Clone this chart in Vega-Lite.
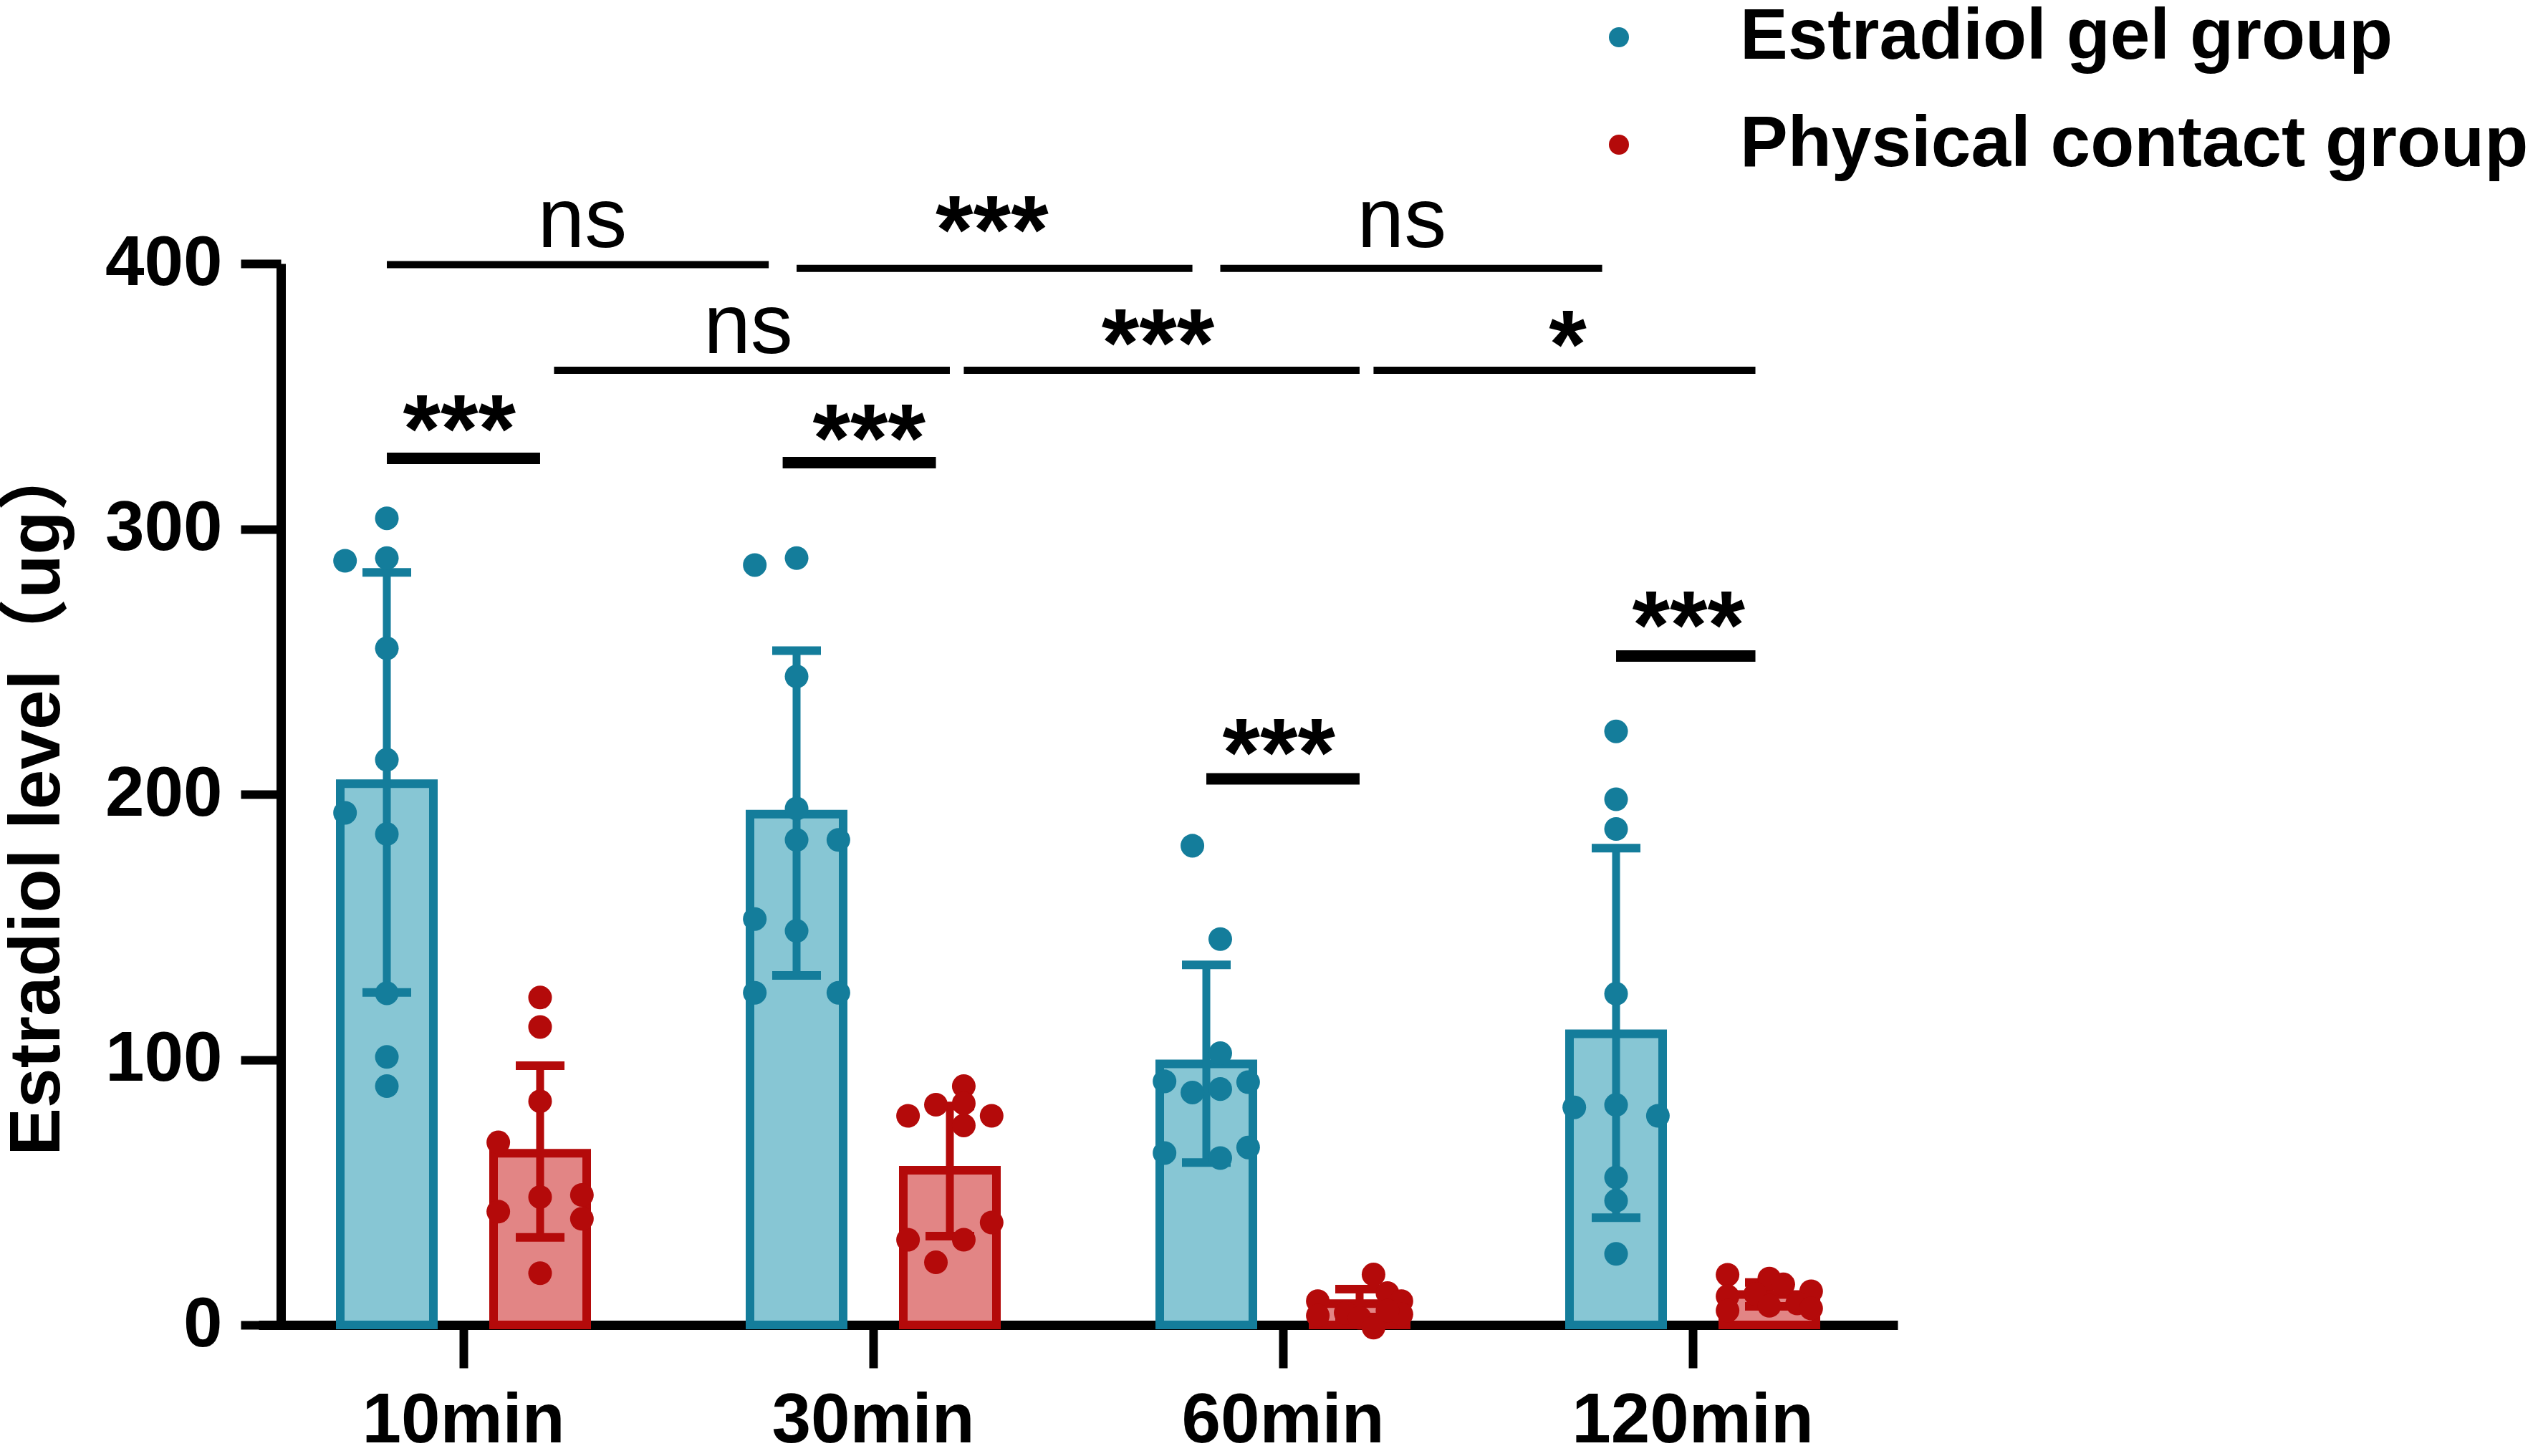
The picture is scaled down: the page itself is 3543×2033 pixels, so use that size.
{
  "$schema": "https://vega.github.io/schema/vega-lite/v6.json",
  "autosize": {"type": "none"},
  "padding": {"left": 361, "top": 368, "right": 894, "bottom": 183},
  "width": 2288,
  "height": 1482,
  "background": "white",
  "config": {"view": {"stroke": null}, "font": "Liberation Sans"},
  "datasets": {
    "bars": [
      {"time": "10min", "group": "Estradiol gel group", "mean": 204, "lo": 125.3, "hi": 283.6},
      {"time": "30min", "group": "Estradiol gel group", "mean": 192.5, "lo": 131.7, "hi": 254.1},
      {"time": "60min", "group": "Estradiol gel group", "mean": 98.4, "lo": 61.2, "hi": 135.7},
      {"time": "120min", "group": "Estradiol gel group", "mean": 109.7, "lo": 40.4, "hi": 179.7},
      {"time": "10min", "group": "Physical contact group", "mean": 64.7, "lo": 33, "hi": 97.7},
      {"time": "30min", "group": "Physical contact group", "mean": 58.3, "lo": 33.5, "hi": 82.5},
      {"time": "60min", "group": "Physical contact group", "mean": 8, "lo": 3, "hi": 13.5},
      {"time": "120min", "group": "Physical contact group", "mean": 11.5, "lo": 7, "hi": 16}
    ],
    "points": [
      {"time": "10min", "group": "Estradiol gel group", "value": 304, "lane": 0},
      {"time": "10min", "group": "Estradiol gel group", "value": 288, "lane": -3},
      {"time": "10min", "group": "Estradiol gel group", "value": 289, "lane": 0},
      {"time": "10min", "group": "Estradiol gel group", "value": 255, "lane": 0},
      {"time": "10min", "group": "Estradiol gel group", "value": 213, "lane": 0},
      {"time": "10min", "group": "Estradiol gel group", "value": 193, "lane": -3},
      {"time": "10min", "group": "Estradiol gel group", "value": 185, "lane": 0},
      {"time": "10min", "group": "Estradiol gel group", "value": 125, "lane": 0},
      {"time": "10min", "group": "Estradiol gel group", "value": 101, "lane": 0},
      {"time": "10min", "group": "Estradiol gel group", "value": 90, "lane": 0},
      {"time": "10min", "group": "Physical contact group", "value": 123.4, "lane": 0},
      {"time": "10min", "group": "Physical contact group", "value": 112.3, "lane": 0},
      {"time": "10min", "group": "Physical contact group", "value": 84.3, "lane": 0},
      {"time": "10min", "group": "Physical contact group", "value": 68.8, "lane": -3},
      {"time": "10min", "group": "Physical contact group", "value": 48.2, "lane": 0},
      {"time": "10min", "group": "Physical contact group", "value": 49, "lane": 3},
      {"time": "10min", "group": "Physical contact group", "value": 42.7, "lane": -3},
      {"time": "10min", "group": "Physical contact group", "value": 40, "lane": 3},
      {"time": "10min", "group": "Physical contact group", "value": 19.5, "lane": 0},
      {"time": "30min", "group": "Estradiol gel group", "value": 286.4, "lane": -3},
      {"time": "30min", "group": "Estradiol gel group", "value": 289, "lane": 0},
      {"time": "30min", "group": "Estradiol gel group", "value": 244.4, "lane": 0},
      {"time": "30min", "group": "Estradiol gel group", "value": 194.6, "lane": 0},
      {"time": "30min", "group": "Estradiol gel group", "value": 182.8, "lane": 0},
      {"time": "30min", "group": "Estradiol gel group", "value": 182.8, "lane": 3},
      {"time": "30min", "group": "Estradiol gel group", "value": 153, "lane": -3},
      {"time": "30min", "group": "Estradiol gel group", "value": 148.5, "lane": 0},
      {"time": "30min", "group": "Estradiol gel group", "value": 125.2, "lane": -3},
      {"time": "30min", "group": "Estradiol gel group", "value": 125.2, "lane": 3},
      {"time": "30min", "group": "Physical contact group", "value": 90, "lane": 1},
      {"time": "30min", "group": "Physical contact group", "value": 83, "lane": -1},
      {"time": "30min", "group": "Physical contact group", "value": 83.5, "lane": 1},
      {"time": "30min", "group": "Physical contact group", "value": 78.8, "lane": -3},
      {"time": "30min", "group": "Physical contact group", "value": 78.8, "lane": 3},
      {"time": "30min", "group": "Physical contact group", "value": 75.2, "lane": 1},
      {"time": "30min", "group": "Physical contact group", "value": 38.6, "lane": 3},
      {"time": "30min", "group": "Physical contact group", "value": 32.1, "lane": -3},
      {"time": "30min", "group": "Physical contact group", "value": 32.1, "lane": 1},
      {"time": "30min", "group": "Physical contact group", "value": 23.6, "lane": -1},
      {"time": "60min", "group": "Estradiol gel group", "value": 180.6, "lane": -1},
      {"time": "60min", "group": "Estradiol gel group", "value": 145.4, "lane": 1},
      {"time": "60min", "group": "Estradiol gel group", "value": 102.4, "lane": 1},
      {"time": "60min", "group": "Estradiol gel group", "value": 91.8, "lane": -3},
      {"time": "60min", "group": "Estradiol gel group", "value": 87.6, "lane": -1},
      {"time": "60min", "group": "Estradiol gel group", "value": 88.9, "lane": 1},
      {"time": "60min", "group": "Estradiol gel group", "value": 91.5, "lane": 3},
      {"time": "60min", "group": "Estradiol gel group", "value": 64.8, "lane": -3},
      {"time": "60min", "group": "Estradiol gel group", "value": 62.9, "lane": 1},
      {"time": "60min", "group": "Estradiol gel group", "value": 66.9, "lane": 3},
      {"time": "60min", "group": "Physical contact group", "value": 19, "lane": 1},
      {"time": "60min", "group": "Physical contact group", "value": 12, "lane": 2},
      {"time": "60min", "group": "Physical contact group", "value": 9, "lane": -3},
      {"time": "60min", "group": "Physical contact group", "value": 3.5, "lane": -3},
      {"time": "60min", "group": "Physical contact group", "value": 9, "lane": 3},
      {"time": "60min", "group": "Physical contact group", "value": 4, "lane": 3},
      {"time": "60min", "group": "Physical contact group", "value": 4.6, "lane": -1},
      {"time": "60min", "group": "Physical contact group", "value": 2.7, "lane": 0},
      {"time": "60min", "group": "Physical contact group", "value": -1, "lane": 1},
      {"time": "60min", "group": "Physical contact group", "value": 5.4, "lane": 2},
      {"time": "120min", "group": "Estradiol gel group", "value": 223.7, "lane": 0},
      {"time": "120min", "group": "Estradiol gel group", "value": 198.1, "lane": 0},
      {"time": "120min", "group": "Estradiol gel group", "value": 186.9, "lane": 0},
      {"time": "120min", "group": "Estradiol gel group", "value": 124.8, "lane": 0},
      {"time": "120min", "group": "Estradiol gel group", "value": 82, "lane": -3},
      {"time": "120min", "group": "Estradiol gel group", "value": 82.9, "lane": 0},
      {"time": "120min", "group": "Estradiol gel group", "value": 78.8, "lane": 3},
      {"time": "120min", "group": "Estradiol gel group", "value": 55.6, "lane": 0},
      {"time": "120min", "group": "Estradiol gel group", "value": 46.8, "lane": 0},
      {"time": "120min", "group": "Estradiol gel group", "value": 26.8, "lane": 0},
      {"time": "120min", "group": "Physical contact group", "value": 18.9, "lane": -3},
      {"time": "120min", "group": "Physical contact group", "value": 17.5, "lane": 0},
      {"time": "120min", "group": "Physical contact group", "value": 15.3, "lane": 1},
      {"time": "120min", "group": "Physical contact group", "value": 12.7, "lane": 3},
      {"time": "120min", "group": "Physical contact group", "value": 11.7, "lane": -1},
      {"time": "120min", "group": "Physical contact group", "value": 10.8, "lane": -3},
      {"time": "120min", "group": "Physical contact group", "value": 8.1, "lane": 2},
      {"time": "120min", "group": "Physical contact group", "value": 7.2, "lane": 0},
      {"time": "120min", "group": "Physical contact group", "value": 6.2, "lane": 3},
      {"time": "120min", "group": "Physical contact group", "value": 5.4, "lane": -3}
    ],
    "brackets": [
      {"id": "a", "kind": "span", "time": "10min", "group": "Estradiol gel group", "lane": 0, "y": 399.6},
      {"id": "a", "kind": "span", "time": "30min", "group": "Estradiol gel group", "lane": -2, "y": 399.6},
      {"id": "b", "kind": "span", "time": "30min", "group": "Estradiol gel group", "lane": 0, "y": 398.2},
      {"id": "b", "kind": "span", "time": "60min", "group": "Estradiol gel group", "lane": -1, "y": 398.2},
      {"id": "c", "kind": "span", "time": "60min", "group": "Estradiol gel group", "lane": 1, "y": 398.2},
      {"id": "c", "kind": "span", "time": "120min", "group": "Estradiol gel group", "lane": -1, "y": 398.2},
      {"id": "d", "kind": "span", "time": "10min", "group": "Physical contact group", "lane": 1, "y": 359.8},
      {"id": "d", "kind": "span", "time": "30min", "group": "Physical contact group", "lane": 0, "y": 359.8},
      {"id": "e", "kind": "span", "time": "30min", "group": "Physical contact group", "lane": 1, "y": 359.8},
      {"id": "e", "kind": "span", "time": "60min", "group": "Physical contact group", "lane": 0, "y": 359.8},
      {"id": "f", "kind": "span", "time": "60min", "group": "Physical contact group", "lane": 1, "y": 359.8},
      {"id": "f", "kind": "span", "time": "120min", "group": "Physical contact group", "lane": -1, "y": 359.8},
      {"id": "g", "kind": "pair", "time": "10min", "group": "Estradiol gel group", "lane": 0, "y": 326.6},
      {"id": "g", "kind": "pair", "time": "10min", "group": "Physical contact group", "lane": 0, "y": 326.6},
      {"id": "h", "kind": "pair", "time": "30min", "group": "Estradiol gel group", "lane": -1, "y": 325},
      {"id": "h", "kind": "pair", "time": "30min", "group": "Physical contact group", "lane": -1, "y": 325},
      {"id": "i", "kind": "pair", "time": "60min", "group": "Estradiol gel group", "lane": 0, "y": 205.8},
      {"id": "i", "kind": "pair", "time": "60min", "group": "Physical contact group", "lane": 0, "y": 205.8},
      {"id": "j", "kind": "pair", "time": "120min", "group": "Estradiol gel group", "lane": 0, "y": 252.1},
      {"id": "j", "kind": "pair", "time": "120min", "group": "Physical contact group", "lane": -1, "y": 252.1}
    ],
    "labels": [
      {"row": "gel", "time": "10min", "text": "ns", "y": 406.2},
      {"row": "gel", "time": "30min", "text": "***", "y": 400.4},
      {"row": "gel", "time": "60min", "text": "ns", "y": 406.2},
      {"row": "contact", "time": "10min", "text": "ns", "y": 366.3},
      {"row": "contact", "time": "30min", "text": "***", "y": 357.6},
      {"row": "contact", "time": "60min", "text": "*", "y": 357},
      {"row": "pair", "time": "10min", "text": "***", "y": 325.2},
      {"row": "pair", "time": "30min", "text": "***", "y": 321.6},
      {"row": "pair", "time": "60min", "text": "***", "y": 203.3},
      {"row": "pair", "time": "120min", "text": "***", "y": 251.2}
    ]
  },
  "layer": [
    {
      "data": {"name": "bars"},
      "transform": [{"filter": "datum.group === 'Estradiol gel group'"}],
      "mark": {"type": "bar", "strokeWidth": 12, "fill": "#87C6D4", "stroke": "#147D9B"},
      "encoding": {
        "x": {
          "field": "time", "type": "nominal",
          "scale": {"domain": ["10min", "30min", "60min", "120min"], "paddingInner": 0, "paddingOuter": 0},
          "axis": {
            "title": null, "labelAngle": 0, "labelFont": "Liberation Sans", "labelFontWeight": "bold",
            "labelFontSize": 98, "labelColor": "black", "labelPadding": 26, "labelLimit": 1000,
            "tickSize": 60, "tickWidth": 12, "tickColor": "black",
            "domainColor": "black", "domainWidth": 13, "grid": false
          }
        },
        "xOffset": {
          "field": "group", "type": "nominal",
          "scale": {"domain": ["Estradiol gel group", "Physical contact group"], "paddingInner": 0.3925, "paddingOuter": 0.5327}
        },
        "y": {
          "field": "mean", "type": "quantitative", "stack": null,
          "scale": {"domain": [0, 400], "nice": false, "zero": false},
          "axis": {
            "title": "Estradiol level（ug）", "values": [0, 100, 200, 300, 400], "offset": -31,
            "labelFont": "Liberation Sans", "labelFontWeight": "bold", "labelFontSize": 98,
            "labelColor": "black", "labelPadding": 26,
            "tickSize": 56, "tickWidth": 12, "tickColor": "black",
            "domainColor": "black", "domainWidth": 13, "grid": false,
            "titleFont": "Liberation Sans, Noto Sans CJK TC", "titleFontSize": 100, "titleFontWeight": "bold",
            "titleColor": "black", "titleAngle": 270, "titleX": -340, "titleY": 745, "titleBaseline": "middle"
          }
        }
      }
    },
    {
      "data": {"name": "bars"},
      "transform": [{"filter": "datum.group === 'Physical contact group'"}],
      "mark": {"type": "bar", "strokeWidth": 12, "fill": "#E28585", "stroke": "#B40A0A"},
      "encoding": {
        "x": {"field": "time", "type": "nominal"},
        "xOffset": {
          "field": "group", "type": "nominal",
          "scale": {"domain": ["Estradiol gel group", "Physical contact group"], "paddingInner": 0.3925, "paddingOuter": 0.5327}
        },
        "y": {"field": "mean", "type": "quantitative", "stack": null}
      }
    },
    {
      "data": {"name": "bars"},
      "mark": {"type": "rule", "strokeWidth": 11, "opacity": 1},
      "encoding": {
        "x": {"field": "time", "type": "nominal"},
        "xOffset": {
          "field": "group", "type": "nominal",
          "scale": {"domain": ["Estradiol gel group", "Physical contact group"], "paddingInner": 0.3925, "paddingOuter": 0.5327}
        },
        "y": {"field": "lo", "type": "quantitative"},
        "y2": {"field": "hi"},
        "color": {"field": "group", "type": "nominal"}
      }
    },
    {
      "data": {"name": "bars"},
      "mark": {"type": "tick", "orient": "horizontal", "size": 68, "thickness": 12, "opacity": 1},
      "encoding": {
        "x": {"field": "time", "type": "nominal"},
        "xOffset": {
          "field": "group", "type": "nominal",
          "scale": {"domain": ["Estradiol gel group", "Physical contact group"], "paddingInner": 0.3925, "paddingOuter": 0.5327}
        },
        "y": {"field": "lo", "type": "quantitative"},
        "color": {"field": "group", "type": "nominal"}
      }
    },
    {
      "data": {"name": "bars"},
      "mark": {"type": "tick", "orient": "horizontal", "size": 68, "thickness": 12, "opacity": 1},
      "encoding": {
        "x": {"field": "time", "type": "nominal"},
        "xOffset": {
          "field": "group", "type": "nominal",
          "scale": {"domain": ["Estradiol gel group", "Physical contact group"], "paddingInner": 0.3925, "paddingOuter": 0.5327}
        },
        "y": {"field": "hi", "type": "quantitative"},
        "color": {"field": "group", "type": "nominal"}
      }
    },
    {
      "data": {"name": "points"},
      "transform": [
        {"calculate": "(datum.group === 'Estradiol gel group' ? 'g' : 'p') + datum.lane", "as": "slot"}
      ],
      "mark": {"type": "point", "filled": true, "shape": "circle", "size": 1090, "opacity": 1},
      "encoding": {
        "x": {"field": "time", "type": "nominal"},
        "xOffset": {
          "field": "slot", "type": "nominal",
          "scale": {
            "type": "point", "padding": 0.205,
            "domain": ["l1", "l2", "l3", "l4", "l5", "l6", "g-3", "g-2", "g-1", "g0", "g1", "g2", "g3", "s1", "s2", "s3", "s4", "p-3", "p-2", "p-1", "p0", "p1", "p2", "p3", "r1", "r2", "r3", "r4", "r5", "r6"]
          }
        },
        "y": {"field": "value", "type": "quantitative"},
        "color": {
          "field": "group", "type": "nominal",
          "scale": {"domain": ["Estradiol gel group", "Physical contact group"], "range": ["#147D9B", "#B40A0A"]},
          "legend": {
            "orient": "none", "legendX": 1849, "legendY": -366, "title": null,
            "symbolType": "circle", "symbolSize": 784, "symbolStrokeWidth": 0, "symbolOpacity": 1,
            "labelFont": "Liberation Sans", "labelFontWeight": "bold", "labelFontSize": 100,
            "labelColor": "black", "labelOffset": 119, "labelLimit": 3000,
            "rowPadding": 50, "padding": 0
          }
        }
      }
    },
    {
      "data": {"name": "brackets"},
      "transform": [
        {"filter": "datum.kind === 'span'"},
        {"calculate": "(datum.group === 'Estradiol gel group' ? 'g' : 'p') + datum.lane", "as": "slot"}
      ],
      "mark": {"type": "line", "strokeWidth": 10, "color": "black"},
      "encoding": {
        "x": {"field": "time", "type": "nominal"},
        "xOffset": {
          "field": "slot", "type": "nominal",
          "scale": {
            "type": "point", "padding": 0.205,
            "domain": ["l1", "l2", "l3", "l4", "l5", "l6", "g-3", "g-2", "g-1", "g0", "g1", "g2", "g3", "s1", "s2", "s3", "s4", "p-3", "p-2", "p-1", "p0", "p1", "p2", "p3", "r1", "r2", "r3", "r4", "r5", "r6"]
          }
        },
        "y": {"field": "y", "type": "quantitative"},
        "detail": {"field": "id"}
      }
    },
    {
      "data": {"name": "brackets"},
      "transform": [
        {"filter": "datum.kind === 'pair'"},
        {"calculate": "(datum.group === 'Estradiol gel group' ? 'g' : 'p') + datum.lane", "as": "slot"}
      ],
      "mark": {"type": "line", "strokeWidth": 16, "color": "black"},
      "encoding": {
        "x": {"field": "time", "type": "nominal"},
        "xOffset": {
          "field": "slot", "type": "nominal",
          "scale": {
            "type": "point", "padding": 0.205,
            "domain": ["l1", "l2", "l3", "l4", "l5", "l6", "g-3", "g-2", "g-1", "g0", "g1", "g2", "g3", "s1", "s2", "s3", "s4", "p-3", "p-2", "p-1", "p0", "p1", "p2", "p3", "r1", "r2", "r3", "r4", "r5", "r6"]
          }
        },
        "y": {"field": "y", "type": "quantitative"},
        "detail": {"field": "id"}
      }
    },
    {
      "data": {"name": "labels"},
      "transform": [{"filter": "datum.row === 'gel' && datum.text === 'ns'"}],
      "mark": {"type": "text", "font": "Liberation Sans", "fontSize": 118, "baseline": "alphabetic", "align": "center", "color": "black"},
      "encoding": {
        "x": {"field": "time", "type": "nominal", "bandPosition": 0.79},
        "y": {"field": "y", "type": "quantitative"},
        "text": {"field": "text"}
      }
    },
    {
      "data": {"name": "labels"},
      "transform": [{"filter": "datum.row === 'gel' && datum.text !== 'ns'"}],
      "mark": {"type": "text", "font": "Liberation Sans", "fontWeight": "bold", "fontSize": 135, "baseline": "alphabetic", "align": "center", "color": "black"},
      "encoding": {
        "x": {"field": "time", "type": "nominal", "bandPosition": 0.79},
        "y": {"field": "y", "type": "quantitative"},
        "text": {"field": "text"}
      }
    },
    {
      "data": {"name": "labels"},
      "transform": [{"filter": "datum.row === 'contact' && datum.text === 'ns'"}],
      "mark": {"type": "text", "font": "Liberation Sans", "fontSize": 118, "baseline": "alphabetic", "align": "center", "color": "black"},
      "encoding": {
        "x": {"field": "time", "type": "nominal", "bandPosition": 1.195},
        "y": {"field": "y", "type": "quantitative"},
        "text": {"field": "text"}
      }
    },
    {
      "data": {"name": "labels"},
      "transform": [{"filter": "datum.row === 'contact' && datum.text !== 'ns'"}],
      "mark": {"type": "text", "font": "Liberation Sans", "fontWeight": "bold", "fontSize": 135, "baseline": "alphabetic", "align": "center", "color": "black"},
      "encoding": {
        "x": {"field": "time", "type": "nominal", "bandPosition": 1.195},
        "y": {"field": "y", "type": "quantitative"},
        "text": {"field": "text"}
      }
    },
    {
      "data": {"name": "labels"},
      "transform": [{"filter": "datum.row === 'pair'"}],
      "mark": {"type": "text", "font": "Liberation Sans", "fontWeight": "bold", "fontSize": 135, "baseline": "alphabetic", "align": "center", "color": "black"},
      "encoding": {
        "x": {"field": "time", "type": "nominal", "bandPosition": 0.49},
        "y": {"field": "y", "type": "quantitative"},
        "text": {"field": "text"}
      }
    }
  ],
  "resolve": {"scale": {"xOffset": "independent"}}
}
